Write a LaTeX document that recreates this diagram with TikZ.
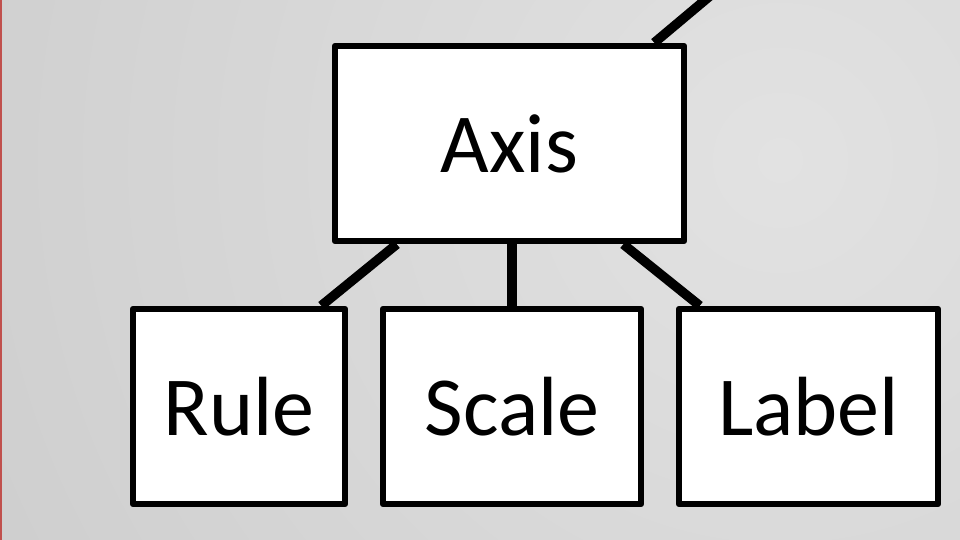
\documentclass[tikz,border=0pt]{standalone}
\usepackage{fontspec}
\setmainfont{Carlito}
\usetikzlibrary{calc}
\definecolor{bginner}{HTML}{E2E2E2}
\definecolor{bgouter}{HTML}{BABABA}
\definecolor{edgered}{HTML}{C0504D}
\pgfdeclareradialshading{bgshade}{\pgfpoint{0bp}{0bp}}{color(0bp)=(bginner); color(50bp)=(bgouter)}
\tikzset{
  box/.style={draw=black, fill=white, line width=6.5pt, line join=round, inner sep=0pt,
    minimum height=195pt, text height=58pt, text depth=0pt,
    font=\fontsize{84}{84}\selectfont},
  link/.style={draw=black, line width=9.5pt}
}
\begin{document}
\begin{tikzpicture}[x=1pt, y=-1pt]
  \useasboundingbox (0,0) rectangle (960,540);
  \clip (0,0) rectangle (960,540);
  \shade[shading=bgshade] (780,160) circle (900);
  \fill[edgered] (0,0) rectangle (2,540);

  \node[box, minimum width=349pt] (axis) at (509.5,143.5) {Axis};
  \node[box, minimum width=212pt] (rule) at (239,406.5) {Rule};
  \node[box, minimum width=258pt] (scale) at (512,406.5) {Scale};
  \node[box, minimum width=259pt] (label) at (808.5,406.5) {Label};
  \coordinate (up) at (729,-20);

  \draw[link] ($(axis.south west)+(65,0)$) -- ($(rule.north east)+(-27,0)$);
  \draw[link] (axis.south -| scale.north) -- (scale.north);
  \draw[link] ($(axis.south east)+(-64,0)$) -- ($(label.north west)+(24,0)$);
  \draw[link] ($(axis.north east)+(-33,0)$) -- (up);
\end{tikzpicture}
\end{document}
